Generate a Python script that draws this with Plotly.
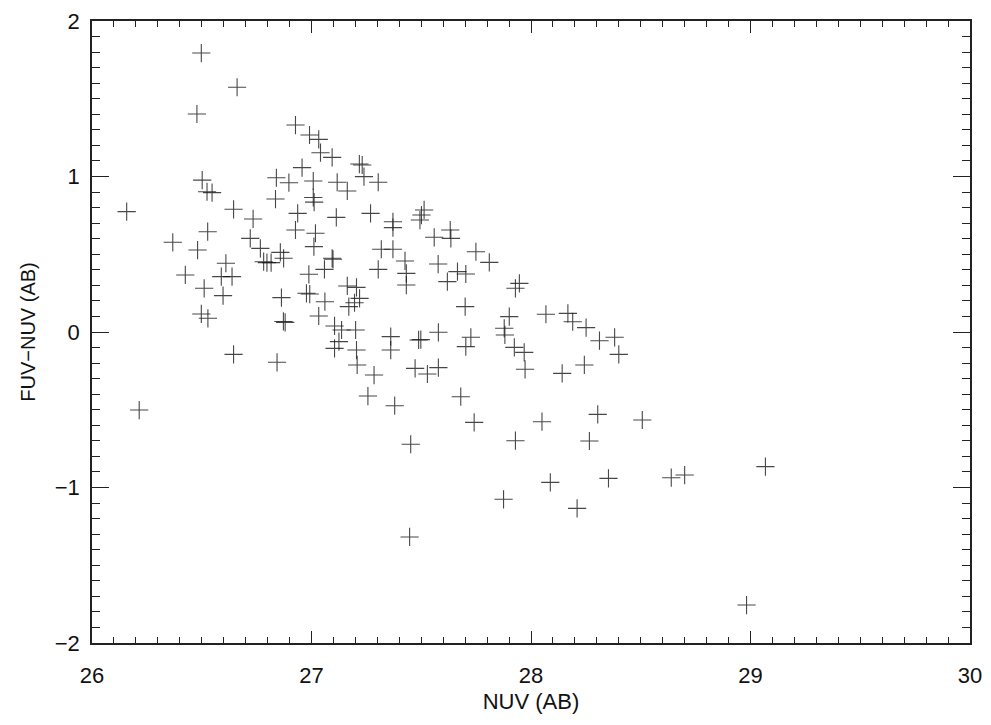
import plotly.graph_objects as go

nuv = [26.498, 26.661, 26.478, 26.927, 26.991, 27.033, 27.041, 27.094, 27.218, 27.231,
       27.239, 27.304, 26.957, 26.502, 26.840, 26.897, 27.008, 27.117, 27.163, 26.524,
       26.547, 26.836, 27.008, 27.012, 26.158, 26.645, 26.734, 26.937, 27.113, 27.269,
       27.371, 27.371, 27.513, 27.501, 27.494, 26.927, 27.018, 26.527, 26.368, 26.721,
       26.767, 27.011, 26.481, 27.318, 27.371, 26.858, 26.873, 26.782, 26.797, 26.816,
       27.094, 27.098, 26.610, 27.426, 27.432, 27.432, 26.425, 26.589, 26.638, 26.988,
       27.059, 27.304, 26.511, 26.597, 26.863, 26.977, 26.992, 27.061, 27.163, 27.205,
       27.219, 27.196, 27.170, 26.498, 26.528, 26.872, 26.880, 27.033, 27.105, 27.137,
       27.201, 27.361, 27.488, 27.498, 26.645, 27.105, 27.125, 27.205, 27.361, 27.559,
       27.632, 27.635, 27.749, 27.810, 27.577, 27.665, 27.703, 27.619, 27.700, 27.929,
       27.947, 27.901, 28.068, 28.168, 28.190, 28.251, 28.312, 28.381, 28.400, 27.578,
       27.726, 27.703, 27.878, 27.881, 27.924, 27.969, 26.843, 27.208, 27.285, 27.472,
       27.528, 27.578, 27.973, 28.142, 28.243, 27.257, 27.379, 27.680, 27.741, 28.050,
       28.304, 28.507, 27.452, 27.929, 28.266, 28.088, 28.353, 28.639, 28.700, 29.068,
       27.875, 28.210, 26.215, 27.447, 28.982]

fuv_nuv = [1.794, 1.574, 1.402, 1.331, 1.267, 1.239, 1.153, 1.123, 1.080, 1.074,
           0.999, 0.963, 1.057, 0.977, 0.992, 0.960, 0.971, 0.963, 0.907, 0.902,
           0.896, 0.855, 0.865, 0.835, 0.774, 0.789, 0.727, 0.763, 0.737, 0.763,
           0.709, 0.671, 0.785, 0.752, 0.720, 0.656, 0.635, 0.645, 0.577, 0.602,
           0.538, 0.549, 0.527, 0.532, 0.532, 0.512, 0.474, 0.452, 0.446, 0.446,
           0.474, 0.468, 0.442, 0.457, 0.377, 0.302, 0.367, 0.356, 0.356, 0.371,
           0.403, 0.403, 0.281, 0.234, 0.221, 0.249, 0.244, 0.195, 0.296, 0.287,
           0.216, 0.188, 0.163, 0.116, 0.088, 0.068, 0.062, 0.103, 0.039, 0.013,
           0.013, -0.030, -0.051, -0.049, -0.144, -0.105, -0.062, -0.116, -0.116, 0.609,
           0.656, 0.602, 0.516, 0.448, 0.437, 0.388, 0.373, 0.324, 0.163, 0.281,
           0.313, 0.099, 0.114, 0.120, 0.066, 0.028, -0.056, -0.034, -0.144, -0.002,
           -0.034, -0.094, 0.024, -0.019, -0.099, -0.131, -0.195, -0.212, -0.277, -0.234,
           -0.270, -0.229, -0.240, -0.266, -0.212, -0.412, -0.474, -0.416, -0.581, -0.577,
           -0.530, -0.566, -0.722, -0.699, -0.701, -0.967, -0.941, -0.937, -0.920, -0.866,
           -1.076, -1.134, -0.502, -1.318, -1.756]

x_ticks = [26, 27, 28, 29, 30]
y_ticks = [-2, -1, 0, 1, 2]
x_title = "NUV (AB)"
y_title = "FUV\u2212NUV (AB)"

FONT = "Liberation Sans, Arial, Helvetica, sans-serif"
AX = "#222222"
TXT = "#111111"

fig = go.Figure()
fig.add_trace(go.Scatter(
    x=nuv, y=fuv_nuv, mode="markers",
    marker=dict(symbol="cross-thin", size=13,
                line=dict(width=1.1, color="rgba(25,25,25,0.8)")),
    showlegend=False, hoverinfo="x+y"))

common = dict(showgrid=False, zeroline=False, showline=True, linecolor=AX,
              linewidth=1.6, mirror="allticks", ticks="inside", tickcolor=AX,
              tickwidth=1.2, automargin=False,
              tickfont=dict(family=FONT, size=22, color=TXT))

fig.update_xaxes(range=[26, 30], tickvals=x_ticks, ticktext=[str(v) for v in x_ticks],
                 ticklen=12, minor=dict(dtick=0.1, ticks="inside", ticklen=6,
                                        tickcolor=AX, tickwidth=1.0, showgrid=False),
                 title=dict(text=x_title, font=dict(family=FONT, size=22, color=TXT),
                            standoff=6),
                 ticklabelstandoff=12, **common)
fig.update_yaxes(range=[-2, 2], tickvals=y_ticks,
                 ticktext=[str(v).replace("-", "\u2212") for v in y_ticks],
                 ticklen=17, minor=dict(dtick=0.1, ticks="inside", ticklen=8,
                                        tickcolor=AX, tickwidth=1.0, showgrid=False),
                 title=dict(text=y_title, font=dict(family=FONT, size=20, color=TXT),
                            standoff=14),
                 ticklabelstandoff=6, **common)

fig.update_layout(width=991, height=725, margin=dict(l=84, r=29, t=13, b=90),
                  paper_bgcolor="white", plot_bgcolor="white")

fig.write_html("out.html")
